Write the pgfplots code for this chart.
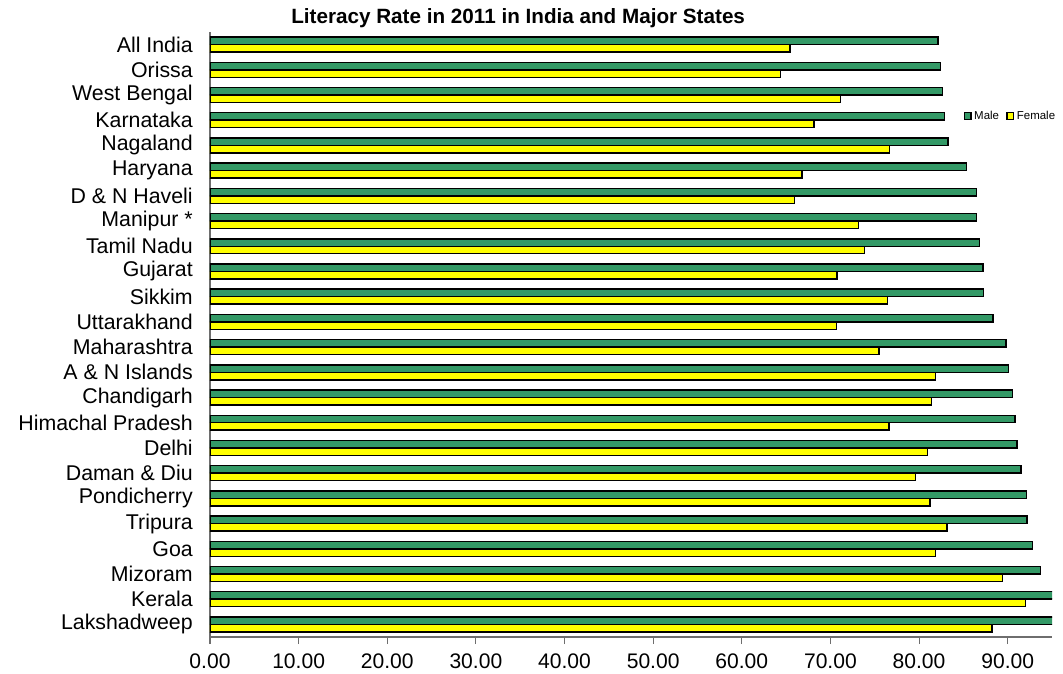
\documentclass[border=0pt]{standalone}
\usepackage{fontspec}
\setmainfont{Liberation Sans}
\usepackage{pgfplots}
\usepackage{pgfplotstable}
\pgfplotsset{compat=1.18}
\definecolor{malegreen}{RGB}{51,153,102}
\definecolor{femyellow}{RGB}{255,255,0}
\definecolor{axgray}{RGB}{110,110,110}

\pgfplotstableread{
idx male female
23 82.14 65.46
22 82.40 64.36
21 82.67 71.16
20 82.85 68.13
19 83.29 76.69
18 85.38 66.77
17 86.46 65.93
16 86.49 73.17
15 86.81 73.86
14 87.23 70.73
13 87.29 76.43
12 88.33 70.70
11 89.82 75.48
10 90.11 81.84
9 90.54 81.38
8 90.83 76.60
7 91.03 80.93
6 91.48 79.59
5 92.12 81.22
4 92.18 83.15
3 92.81 81.84
2 93.72 89.40
1 96.02 91.98
0 96.11 88.25
}\datatable

\begin{document}
\begin{tikzpicture}
\begin{axis}[
  name=ax,
  at={(0,0)}, anchor=south west,
  scale only axis,
  width=631.5pt, height=453.75pt,
  xmin=0, xmax=95,
  ymin=-0.5, ymax=23.5,
  axis x line*=bottom,
  axis y line*=left,
  axis line style={axgray, line width=0.8pt},
  xtick={0,10,...,90},
  x tick style={axgray, line width=0.8pt},
  tick align=outside,
  major tick length=5.25pt,
  xticklabel style={font=\fontsize{15.8}{18}\selectfont, inner sep=0pt, yshift=-7.5pt},
  /pgf/number format/.cd, fixed, fixed zerofill, precision=2, assume math mode=true,
  /pgfplots/.cd,
  ytick={0,...,23},
  yticklabels={Lakshadweep\hspace{4.5pt},Kerala,Mizoram,Goa\hspace{4.5pt},Tripura,Pondicherry,Daman \& Diu,Delhi,Himachal Pradesh,Chandigarh\hspace{4.5pt},A \& N Islands\hspace{4.5pt},Maharashtra\hspace{4.5pt},Uttarakhand\hspace{4.5pt},Sikkim,Gujarat,Tamil Nadu,Manipur *,D \& N Haveli,Haryana,Nagaland,Karnataka,West Bengal\hspace{4.5pt},Orissa,All India},
  y tick style={draw=none},
  yticklabel style={font=\fontsize{16}{18}\selectfont, inner sep=0pt, anchor=east, xshift=-7.5pt},
  minor ytick={-0.5,0.5,...,23.5},
  minor y tick style={axgray, line width=0.8pt},
  minor tick length=5.25pt,
  xbar,
  bar width=5.6pt,
  title={Literacy Rate in 2011 in India and Major States},
  title style={font=\bfseries\fontsize{15.5}{18}\selectfont, at={(rel axis cs:0.366,1)}, anchor=center, yshift=4.5pt, inner sep=0pt},
  legend style={at={(0.951,0.861)}, anchor=center, draw=none, fill=none,
    font=\fontsize{8.6}{10}\selectfont, legend columns=-1,
    /tikz/every even column/.append style={column sep=3.5pt}},
  legend image code/.code={\draw[#1, line width=0.9pt] (0pt,-2.4pt) rectangle (5pt,2.4pt);},
]
\addplot[draw=black, line width=1.1pt, fill=malegreen, bar shift=2.8pt] table[x=male, y=idx] {\datatable};
\addplot[draw=black, line width=1.1pt, fill=femyellow, bar shift=-2.8pt] table[x=female, y=idx] {\datatable};
\legend{Male, Female}
\end{axis}
\pgfresetboundingbox
\useasboundingbox (-157.5pt,-27.75pt) rectangle (639.75pt,477.75pt);
\end{tikzpicture}
\end{document}
